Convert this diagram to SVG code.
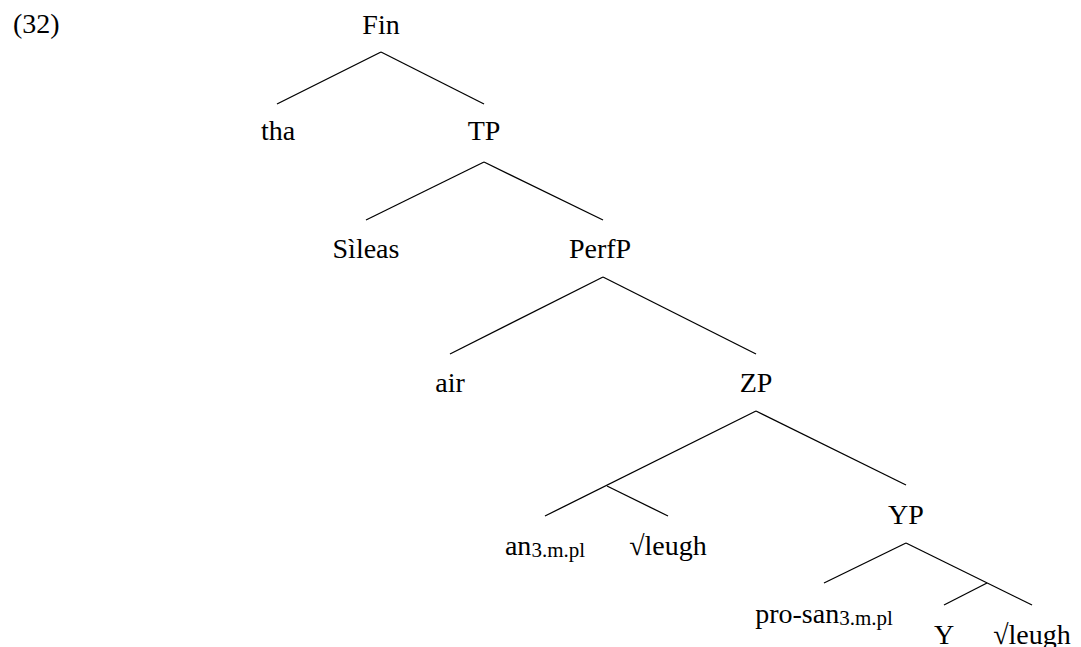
<svg xmlns="http://www.w3.org/2000/svg" width="1081" height="647" viewBox="0 0 1081 647">
<style>
text{font-family:"Liberation Serif","DejaVu Serif",serif;font-size:28px;fill:#000;text-anchor:middle}
.sub{font-size:21px}
.lbl{text-anchor:start}
#edges line{stroke:#000;stroke-width:1.3;stroke-linecap:butt}
</style>
<rect width="1081" height="647" fill="#fff"/>
<g id="example-number" font-family="Liberation Serif"><text class="lbl" x="13" y="33">(32)</text></g>
<g id="edges">
<line x1="381" y1="52" x2="277" y2="104"/>
<line x1="381" y1="52" x2="484" y2="104"/>
<line x1="484" y1="162" x2="366" y2="220"/>
<line x1="484" y1="162" x2="603" y2="220"/>
<line x1="603" y1="277" x2="450" y2="354"/>
<line x1="603" y1="277" x2="756" y2="354"/>
<line x1="756" y1="411" x2="545" y2="516"/>
<line x1="607" y1="486" x2="668" y2="516"/>
<line x1="756" y1="411" x2="906" y2="485"/>
<line x1="906" y1="543" x2="824" y2="583"/>
<line x1="906" y1="543" x2="1032" y2="605"/>
<line x1="987" y1="583" x2="944" y2="605"/>
</g>
<g id="n-Fin"><text x="381" y="34">Fin</text></g>
<g id="n-tha"><text x="278" y="140">tha</text></g>
<g id="n-TP"><text x="484" y="140">TP</text></g>
<g id="n-Sileas"><text x="366" y="258">Sìleas</text></g>
<g id="n-PerfP"><text x="600" y="258">PerfP</text></g>
<g id="n-air"><text x="450" y="392">air</text></g>
<g id="n-ZP"><text x="756" y="392">ZP</text></g>
<g id="n-an"><text x="545" y="555">an<tspan class="sub" dy="2">3.m.pl</tspan></text></g>
<g id="n-leugh1"><text x="668" y="555">√leugh</text></g>
<g id="n-YP"><text x="906" y="524">YP</text></g>
<g id="n-prosan"><text x="824" y="623">pro-san<tspan class="sub" dy="2">3.m.pl</tspan></text></g>
<g id="n-Y"><text x="944" y="644">Y</text></g>
<g id="n-leugh2"><text x="1032" y="644">√leugh</text></g>
</svg>
